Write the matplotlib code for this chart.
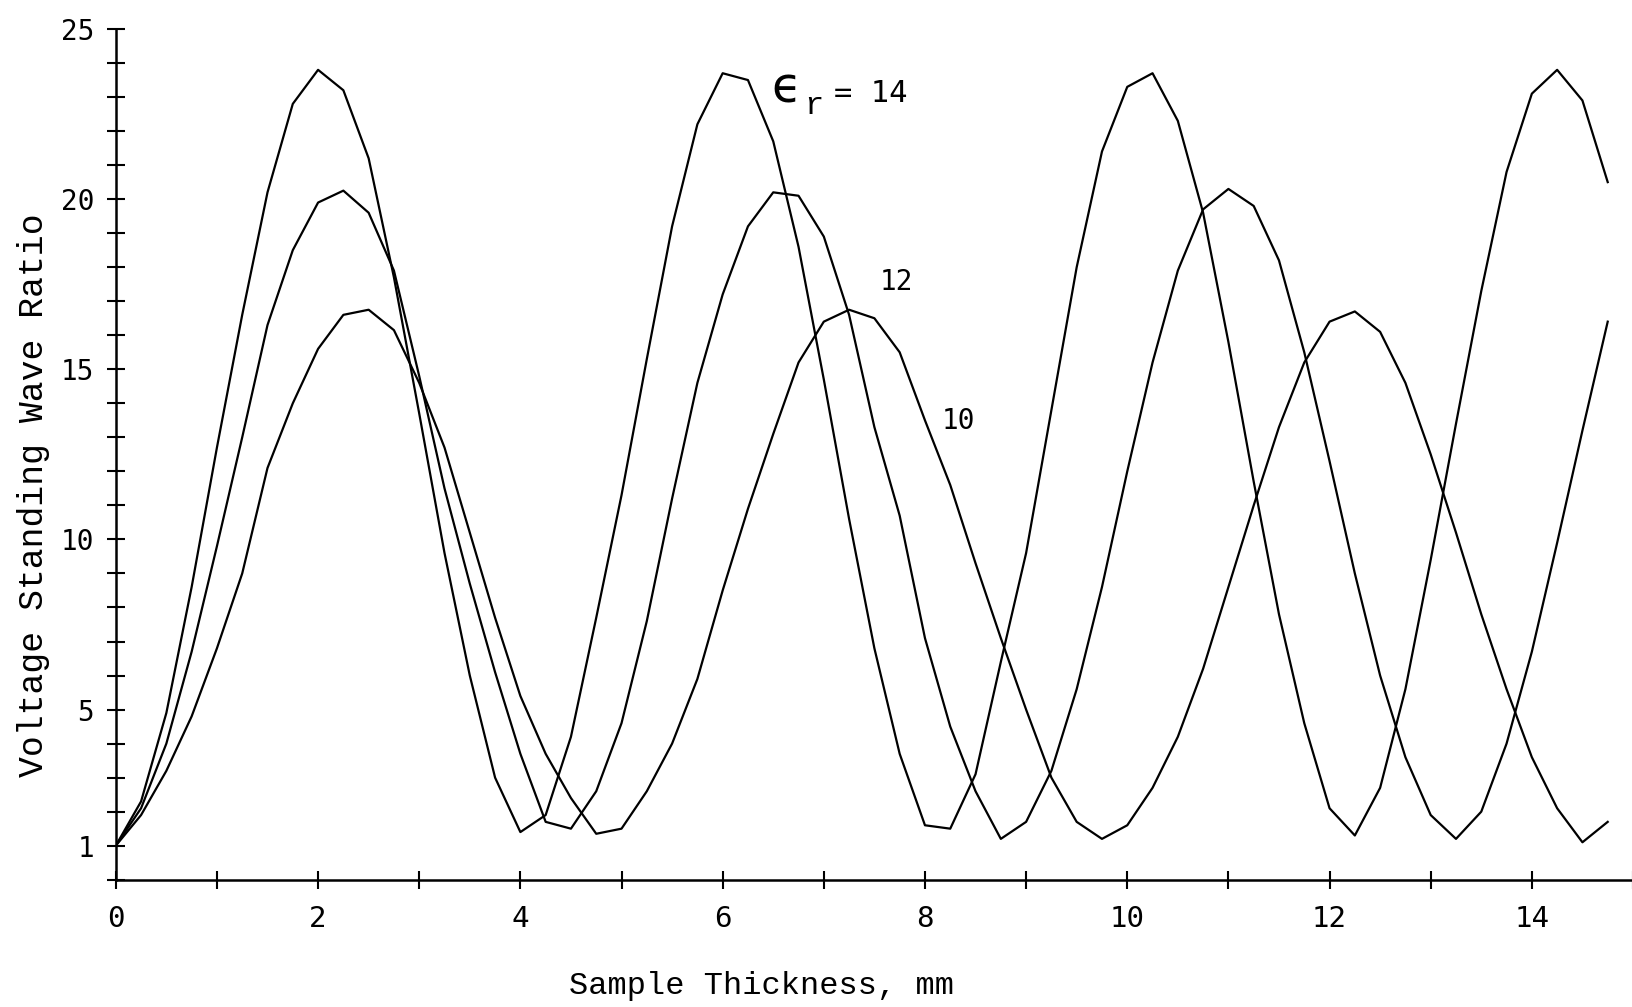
import matplotlib
matplotlib.use('Agg')
from matplotlib import pyplot as plt
from matplotlib.ticker import MultipleLocator

# sample thickness, mm (curves were computed every 0.25 mm)
thickness = [0.0, 0.25, 0.5, 0.75, 1.0, 1.25, 1.5, 1.75, 2.0, 2.25,
             2.5, 2.75, 3.0, 3.25, 3.5, 3.75, 4.0, 4.25, 4.5, 4.75,
             5.0, 5.25, 5.5, 5.75, 6.0, 6.25, 6.5, 6.75, 7.0, 7.25,
             7.5, 7.75, 8.0, 8.25, 8.5, 8.75, 9.0, 9.25, 9.5, 9.75,
             10.0, 10.25, 10.5, 10.75, 11.0, 11.25, 11.5, 11.75, 12.0, 12.25,
             12.5, 12.75, 13.0, 13.25, 13.5, 13.75, 14.0, 14.25, 14.5, 14.75]

# VSWR, eps_r = 14
vswr_14 = [1.0, 2.3, 4.9, 8.6, 12.7, 16.6, 20.2, 22.8, 23.8, 23.2,
           21.2, 17.7, 13.7, 9.6, 6.0, 3.0, 1.4, 1.9, 4.2, 7.7,
           11.3, 15.3, 19.2, 22.2, 23.7, 23.5, 21.7, 18.6, 14.7, 10.6,
           6.8, 3.7, 1.6, 1.5, 3.1, 6.4, 9.6, 13.8, 18.0, 21.4,
           23.3, 23.7, 22.3, 19.6, 15.8, 11.7, 7.8, 4.6, 2.1, 1.3,
           2.7, 5.6, 9.4, 13.4, 17.3, 20.8, 23.1, 23.8, 22.9, 20.5]

# VSWR, eps_r = 12
vswr_12 = [1.0, 2.1, 4.0, 6.7, 9.8, 13.0, 16.3, 18.5, 19.9, 20.25,
           19.6, 17.9, 14.8, 11.5, 8.7, 6.1, 3.7, 1.7, 1.5, 2.6,
           4.6, 7.6, 11.2, 14.6, 17.2, 19.2, 20.2, 20.1, 18.9, 16.6,
           13.3, 10.7, 7.1, 4.5, 2.6, 1.2, 1.7, 3.2, 5.6, 8.6,
           12.0, 15.2, 17.9, 19.7, 20.3, 19.8, 18.2, 15.5, 12.3, 9.0,
           6.0, 3.6, 1.9, 1.2, 2.0, 4.0, 6.7, 9.9, 13.2, 16.4]

# VSWR, eps_r = 10
vswr_10 = [1.0, 1.9, 3.2, 4.8, 6.8, 9.0, 12.1, 14.0, 15.6, 16.6,
           16.75, 16.15, 14.6, 12.7, 10.2, 7.7, 5.4, 3.7, 2.4, 1.35,
           1.5, 2.6, 4.0, 5.9, 8.5, 10.9, 13.1, 15.2, 16.4, 16.75,
           16.5, 15.5, 13.5, 11.6, 9.3, 7.1, 5.0, 3.0, 1.7, 1.2,
           1.6, 2.7, 4.2, 6.2, 8.6, 11.0, 13.3, 15.2, 16.4, 16.7,
           16.1, 14.6, 12.5, 10.2, 7.8, 5.6, 3.6, 2.1, 1.1, 1.7]

x_major = [0, 2, 4, 6, 8, 10, 12, 14]
y_major = [1, 5, 10, 15, 20, 25]

mono = 'DejaVu Sans Mono'
typewriter = 'Liberation Mono'

fig = plt.figure(figsize=(16.33, 10.07), dpi=100)
ax = fig.add_axes([0.0709, 0.1264, 0.9291, 0.8448])

for series in (vswr_14, vswr_12, vswr_10):
    ax.plot(thickness, series, color='black', linewidth=1.6)

ax.set_xlim(0, 15.0)
ax.set_ylim(0, 25)

ax.spines['top'].set_visible(False)
ax.spines['right'].set_visible(False)
ax.spines['left'].set_linewidth(1.8)
ax.spines['bottom'].set_linewidth(1.8)

ax.set_xticks(x_major)
ax.set_xticklabels([str(v) for v in x_major])
ax.xaxis.set_minor_locator(MultipleLocator(1))
ax.set_yticks(y_major)
ax.set_yticklabels([str(v) for v in y_major])
ax.yaxis.set_minor_locator(MultipleLocator(1))

ax.tick_params(which='both', direction='inout', length=13, width=1.5, color='black')
ax.tick_params(axis='x', labelsize=21, pad=12)
ax.tick_params(axis='y', labelsize=20, pad=9)
for lab in ax.get_xticklabels() + ax.get_yticklabels():
    lab.set_fontfamily(mono)

ax.set_xlabel('Sample Thickness, mm', fontsize=23, fontfamily=typewriter)
ax.xaxis.set_label_coords(0.4253, -0.125)
ax.xaxis.label.set_va('center')
ax.set_ylabel('Voltage Standing Wave Ratio', fontsize=25, fontfamily=typewriter)
ax.yaxis.set_label_coords(-0.0545, 0.452)
ax.yaxis.label.set_va('center')

# curve labels: big lunate epsilon, typewriter subscript r, then "= 14"
ax.text(6.63, 23.4, '\u03f5', fontsize=35, fontfamily='DejaVu Sans',
        ha='center', va='center_baseline')
ax.text(6.9, 22.75, 'r', fontsize=23, fontfamily=typewriter,
        ha='center', va='center')
ax.text(7.1, 23.1, '= 14', fontsize=22, fontfamily=mono, ha='left', va='center')
ax.text(7.72, 17.56, '12', fontsize=20, fontfamily=mono, ha='center', va='center')
ax.text(8.33, 13.47, '10', fontsize=20, fontfamily=mono, ha='center', va='center')

fig.savefig('out.png', dpi=100, facecolor='white')
